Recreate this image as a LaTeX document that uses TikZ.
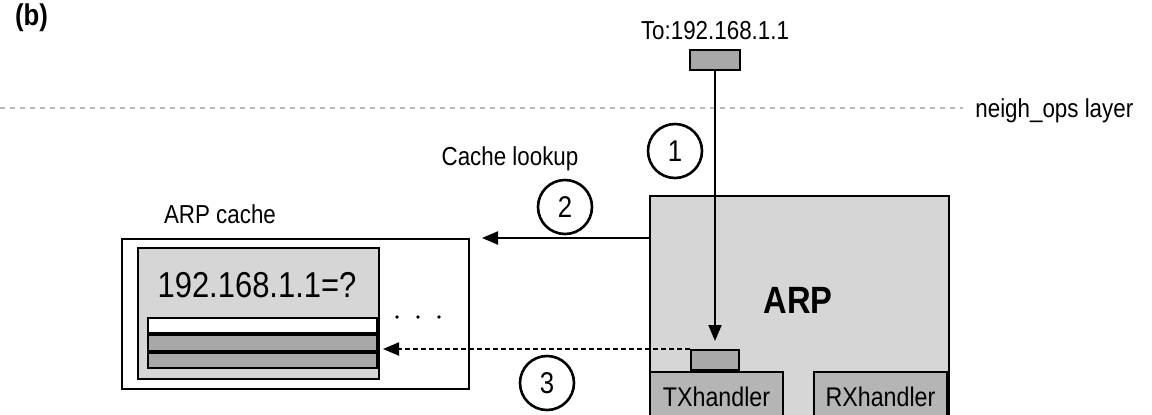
\documentclass[tikz,border=0pt]{standalone}
\usepackage{fontspec}
\setmainfont[FakeStretch=0.86]{Liberation Sans}
\usetikzlibrary{arrows.meta}
\definecolor{arpgray}{gray}{0.84}
\definecolor{handgray}{gray}{0.71}
\definecolor{bufgray}{gray}{0.66}

\begin{document}
\begin{tikzpicture}[x=0.5pt,y=-0.5pt,
    box/.style={draw,line width=1pt,inner sep=0pt},
    handler/.style={box,fill=handgray,minimum width=66.5pt,inner ysep=0pt,
      text height=17pt,text depth=16pt,font=\fontsize{13.5}{15}\selectfont},
    stepnum/.style={draw,circle,line width=1.3pt,minimum size=27pt,inner sep=0pt,
      font=\fontsize{15}{17}\selectfont},
    lbl/.style={inner sep=0pt,font=\fontsize{13}{15}\selectfont},
    tip/.style={line width=1pt,-{Triangle[length=8pt,width=6.5pt]}}]
      \clip (0,0) rectangle (1152,414);
      \node[anchor=base west,font=\bfseries\fontsize{15}{17}\selectfont] (tag) at (8,25) {(b)};

      % Outgoing packet and layer boundary
      \node[lbl,anchor=base] (dstlabel) at (715,39) {To:192.168.1.1};
      \node[box,fill=bufgray,minimum width=25pt,minimum height=10pt] (dst) at (715,60) {};
      \draw[gray!55,line width=1pt,dash pattern=on 2.5pt off 2.5pt]
        (0,108) coordinate (layerstart) -- (963,108) coordinate (layerend);
      \node[lbl,anchor=base west] (layer) at (975,117) {neigh\_ops layer};

      % ARP block with its handlers
      \node[box,fill=arpgray,minimum width=149.5pt,minimum height=120pt,anchor=north west] (arp) at (649,195) {};
      \node[anchor=base,inner sep=0pt,font=\bfseries\fontsize{19}{21}\selectfont] (arplabel) at (798,313) {ARP};
      \node[handler,anchor=north west] (tx) at (649,371) {TXhandler};
      \node[handler,anchor=north east] (rx) at (948,371) {RXhandler};
      \node[box,fill=bufgray,minimum width=24pt,minimum height=10pt,anchor=south] (txq) at (715,371) {};

      % ARP cache
      \node[lbl,anchor=base] (cachelabel) at (220,223) {ARP cache};
      \node[box,fill=white,minimum width=173.5pt,minimum height=75pt,anchor=north west] (cache) at (121,238) {};
      \node[box,fill=arpgray,minimum width=120.5pt,minimum height=65.5pt,anchor=north west] (entries) at (137,247) {};
      \node[anchor=base,inner sep=0pt,font=\fontsize{18}{20}\selectfont] (query) at (257,297) {192.168.1.1=?};
      \node[box,fill=white,minimum width=114.5pt,minimum height=7.7pt,anchor=north east] (row1) at (378,317) {};
      \node[box,fill=bufgray,minimum width=114.5pt,minimum height=7.7pt,anchor=north] (row2) at (row1.south) {};
      \node[box,fill=bufgray,minimum width=114.5pt,minimum height=7.7pt,anchor=north] (row3) at (row2.south) {};
      \foreach \x in {397,418,439}
        \fill (\x,317) circle (0.9pt);

      % Steps
      \node[stepnum] (s1) at (675,151) {1};
      \node[stepnum] (s2) at (565,207) {2};
      \node[stepnum] (s3) at (547,383) {3};
      \node[lbl,anchor=base] (lookup) at (510,165) {Cache lookup};

      \draw[tip,shorten >=4pt] (dst) -- (txq);
      \draw[tip,shorten >=6pt] (arp.west |- cache.north) -- (cache.north east);
      \draw[tip,dash pattern=on 2.5pt off 1.5pt,shorten >=2.5pt]
        (txq.north west) -- (txq.north west -| row3.east);
    \end{tikzpicture}
\end{document}
